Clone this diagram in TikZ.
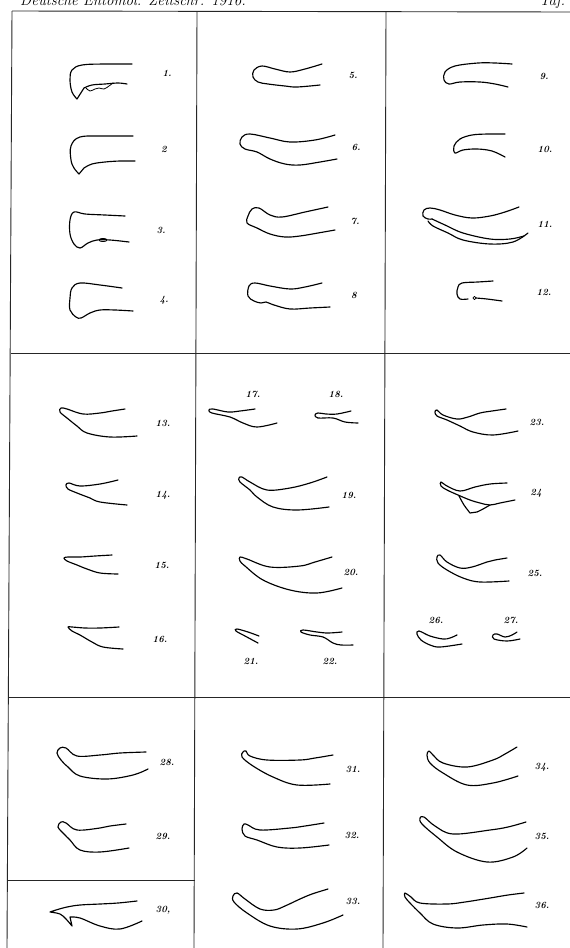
\documentclass[tikz,border=0pt]{standalone}
\begin{document}
\begin{tikzpicture}[x=1pt,y=-1pt,
  frame/.style={line width=0.9pt, black!85},
  fig/.style={line width=1.15pt, line cap=round, line join=round},
  num/.style={font=\fontsize{9.5}{10}\selectfont\bfseries\itshape, inner sep=0pt}]
\useasboundingbox (0,0) rectangle (570,948);
\fill[white] (0,0) rectangle (570,948);

% running head (cut by the page edge)
\node[anchor=base west, inner sep=0pt, font=\itshape\fontsize{15}{15}\selectfont] (head) at (20,5) {Deutsche Entomol. Zeitschr. 1916.};
\node[anchor=base east, inner sep=0pt, font=\itshape\fontsize{15}{15}\selectfont] (taf) at (578,5) {Taf. I};

% panel rules
\draw[frame] (12,11) -- (570,12);
\draw[frame] (12,11) -- (7,948);
\draw[frame] (197,11) -- (194,948);
\draw[frame] (386,12) -- (383,948);
\draw[frame] (11.2,353) -- (570,353);
\draw[frame] (9.4,697) -- (570,697);
\draw[frame] (8.2,880) -- (194.6,880);

% ---- panel A: figures 1-4
\draw[fig] plot[smooth, tension=0.6] coordinates {(132,64) (105,64) (82,65) (72,70) (70,80) (72,92) (77,99)}
  -- (84,88) plot[smooth, tension=0.6] coordinates {(84,88) (92,85) (105,84) (118,83) (127,84)};
\draw[fig, line width=0.8pt] plot[smooth, tension=0.6] coordinates {(86,88) (90,91) (95,89) (99,88) (104,89) (109,86) (113,83)};
\node[num] (l1) at (167,73) {1.};

\draw[fig] plot[smooth, tension=0.6] coordinates {(133,136) (105,136) (80,137) (71,146) (71,160) (74,168) (79,174)}
  -- (84,168) plot[smooth, tension=0.6] coordinates {(84,168) (92,164) (105,162) (120,161) (135,161)};
\node[num] (l2) at (164,149) {2};

\draw[fig] plot[smooth, tension=0.6] coordinates {(125,216) (105,215) (85,214) (74,212) (70,220) (70,234) (74,244) (80,248) (88,243) (97,240) (110,240) (129,242)};
\draw[fig, line width=0.8pt] (103,240) ellipse[x radius=4, y radius=1.6];
\node[num] (l3) at (161,230) {3.};

\draw[fig] plot[smooth, tension=0.6] coordinates {(122,288) (100,285) (80,283) (72,288) (70,298) (70,310) (76,317) (81,318) (90,313) (100,310) (115,310) (133,311)};
\node[num] (l4) at (164,300) {4.};

% ---- panel B: figures 5-8
\draw[fig] plot[smooth, tension=0.6] coordinates {(322,64) (305,69) (290,72) (275,69) (262,66) (254,70) (253,77) (258,82) (268,84) (285,86) (297,87) (320,85)};
\node[num] (l5) at (353,75) {5.};

\draw[fig] plot[smooth, tension=0.6] coordinates {(335,135) (315,140) (290,142) (270,138) (250,134) (242,137) (240,144) (245,149) (257,152) (270,159) (285,164) (300,165) (320,162) (337,159)};
\node[num] (l6) at (356,147) {6.};

\draw[fig] plot[smooth, tension=0.6] coordinates {(328,207) (305,212) (282,217) (270,215) (259,208) (252,209) (248,216) (247,223) (257,228) (270,234) (285,237) (300,236) (318,233) (335,230)};
\node[num] (l7) at (355,221) {7.};

\draw[fig] plot[smooth, tension=0.6] coordinates {(322,283) (305,287) (290,289) (270,286) (255,283) (249,286) (248,296) (254,301) (261,303) (266,302) (274,305) (290,309) (310,308) (330,307)};
\node[num] (l8) at (354,295) {8};

% ---- panel C: figures 9-12
\draw[fig] plot[smooth, tension=0.6] coordinates {(512,64) (495,63) (478,63) (455,66) (445,72) (444,80) (449,84) (460,82) (480,82) (495,84) (508,87)};
\node[num] (l9) at (544,76) {9.};

\draw[fig] plot[smooth, tension=0.6] coordinates {(505,134) (488,134) (472,135) (460,139) (454,146) (455,153) (463,150) (477,149) (492,151) (505,157)};
\node[num] (l10) at (545,149) {10.};

\draw[fig] plot[smooth, tension=0.6] coordinates {(519,207) (505,212) (490,216) (472,218) (455,215) (440,210) (430,208) (424,210) (423,216) (428,219) (432,219)};
\draw[fig] plot[smooth, tension=0.6] coordinates {(432,219) (445,225) (463,233) (490,239) (510,239) (524,236)};
\draw[fig] plot[smooth, tension=0.6] coordinates {(428,221) (433,226) (448,233) (463,240) (490,244) (513,242) (528,233)};
\node[num] (l11) at (545,224) {11.};

\draw[fig] plot[smooth, tension=0.6] coordinates {(493,281) (478,282) (462,283) (458,287) (457,294) (460,299) (468,299)};
\draw[fig, line width=0.8pt] (474.5,298) circle[radius=1.6];
\draw[fig] plot[smooth, tension=0.6] coordinates {(476,298) (487,299) (502,301)};
\node[num] (l12) at (544,292) {12.};

% ---- panel D: figures 13-16
\draw[fig] plot[smooth, tension=0.6] coordinates {(125,409) (112,411) (100,413) (83,414) (67,409) (61,408) (60,412) (67,418) (77,426) (87,433) (110,437) (137,436)};
\node[num] (l13) at (163,423) {13.};

\draw[fig] plot[smooth, tension=0.6] coordinates {(118,480) (100,484) (80,486) (69,483) (66,485) (68,489) (77,493) (90,498) (100,502) (127,505)};
\node[num] (l14) at (163,495) {14.};

\draw[fig] plot[smooth, tension=0.6] coordinates {(112,555) (95,556) (80,557) (68,557) (64,558) (67,561) (77,565) (87,569) (100,573) (118,574)};
\node[num] (l15) at (162,565) {15.};

\draw[fig] plot[smooth, tension=0.6] coordinates {(119,627) (100,628) (85,628) (72,627) (68,627) (72,631) (80,635) (92,642) (103,647) (123,649)};
\node[num] (l16) at (160,639) {16.};

% ---- panel E: figures 17-22
\node[num] (l17) at (253,394) {17.};
\draw[fig] plot[smooth, tension=0.6] coordinates {(255,409) (240,411) (228,412) (213,409) (209,410) (212,413) (230,417) (243,423) (257,427) (277,423)};

\node[num] (l18) at (336,394) {18.};
\draw[fig] plot[smooth, tension=0.6] coordinates {(351,411) (337,414) (326,414) (318,413) (315,415) (318,418) (333,418) (345,422) (358,423)};

\draw[fig] plot[smooth, tension=0.6] coordinates {(327,477) (310,483) (290,488) (267,490) (250,482) (242,477) (239,478) (240,482) (250,490) (257,497) (273,507) (297,510) (329,507)};
\node[num] (l19) at (349,495) {19.};

\draw[fig] plot[smooth, tension=0.6] coordinates {(332,557) (315,562) (300,566) (270,567) (247,559) (240,557) (240,561) (245,566) (263,580) (290,590) (317,593) (342,588)};
\node[num] (l20) at (351,572) {20.};

\draw[fig] plot[smooth, tension=0.6] coordinates {(259,636) (248,632) (237,629) (236,631) (245,636) (258,643)};
\node[num] (l21) at (251,661) {21.};

\draw[fig] plot[smooth, tension=0.6] coordinates {(342,632) (328,633) (317,632) (303,630) (301,632) (310,635) (323,637) (333,643) (341,645) (353,645)};
\node[num] (l22) at (330,661) {22.};

% ---- panel F: figures 23-27
\draw[fig] plot[smooth, tension=0.6] coordinates {(506,409) (492,411) (480,413) (468,417) (457,419) (443,415) (437,410) (435,412) (437,416) (447,420) (460,426) (473,432) (493,435) (518,431)};
\node[num] (l23) at (537,422) {23.};

\draw[fig] plot[smooth, tension=0.6] coordinates {(507,483) (490,484) (475,487) (460,491) (447,486) (441,482) (441,486) (447,490) (458,495) (470,500) (480,503) (490,505) (500,503) (515,500)};
\draw[fig] plot[smooth, tension=0.5] coordinates {(459,496) (464,505) (470,513)} -- (477,512)
  plot[smooth, tension=0.5] coordinates {(477,512) (483,509) (490,505)};
\node[num] (l24) at (536,493) {24};

\draw[fig] plot[smooth, tension=0.6] coordinates {(507,558) (495,560) (487,562) (472,567) (460,568) (447,562) (440,555) (437,557) (438,563) (447,570) (463,578) (480,582) (509,581)};
\node[num] (l25) at (535,573) {25.};

\node[num] (l26) at (436,620) {26.};
\draw[fig] plot[smooth, tension=0.6] coordinates {(457,635) (450,638) (443,639) (430,636) (419,631) (417,634) (421,640) (430,645) (440,647) (462,644)};

\node[num] (l27) at (511,620) {27.};
\draw[fig] plot[smooth, tension=0.6] coordinates {(517,632) (512,635) (505,637) (497,634) (493,635) (494,639) (507,641) (520,639)};

% ---- panel G: figures 28-29
\draw[fig] plot[smooth, tension=0.6] coordinates {(146,752) (120,753) (100,755) (77,756) (66,748) (60,748) (57,753) (61,760) (68,767) (80,776) (107,779) (133,775) (148,769)};
\node[num] (l28) at (167,762) {28.};

\draw[fig] plot[smooth, tension=0.6] coordinates {(126,824) (110,826) (100,828) (77,830) (66,823) (61,822) (58,827) (64,834) (70,840) (80,850) (100,852) (129,848)};
\node[num] (l29) at (163,836) {29.};

% ---- panel H: figure 30
\draw[fig] plot[smooth, tension=0.6] coordinates {(137,901) (118,903) (100,904) (80,905) (67,907) (56,910) (50,912)}
  plot[smooth, tension=0.6] coordinates {(50,912) (60,914) (66,919) (72,926)}
  -- (70,917) plot[smooth, tension=0.6] coordinates {(70,917) (80,918) (100,926) (120,929) (142,921)};
\node[num] (l30) at (163,910) {30,};

% ---- panel I: figures 31-33
\draw[fig] plot[smooth, tension=0.6] coordinates {(333,755) (315,758) (300,760) (267,760) (250,756) (246,751) (243,752) (242,757) (253,766) (273,777) (297,785) (330,784)};
\node[num] (l31) at (353,769) {31.};

\draw[fig] plot[smooth, tension=0.6] coordinates {(324,823) (305,826) (290,828) (260,830) (248,825) (244,824) (242,829) (245,836) (257,840) (277,847) (300,848) (329,845)};
\node[num] (l32) at (352,835) {32.};

\draw[fig] plot[smooth, tension=0.6] coordinates {(328,889) (312,894) (300,899) (285,906) (274,910) (260,909) (245,899) (237,893) (233,896) (234,902) (247,913) (270,926) (297,929) (323,923) (343,915)};
\node[num] (l33) at (353,901) {33.};

% ---- panel J: figures 34-36
\draw[fig] plot[smooth, tension=0.6] coordinates {(517,747) (505,754) (493,760) (467,767) (443,763) (433,755) (429,751) (427,755) (430,763) (443,773) (467,785) (493,783) (518,776)};
\node[num] (l34) at (542,767) {34.};

\draw[fig] plot[smooth, tension=0.6] coordinates {(526,822) (508,827) (490,830) (453,834) (435,826) (424,817) (420,818) (422,824) (437,837) (457,852) (487,862) (513,857) (527,848)};
\node[num] (l35) at (542,836) {35.};

\draw[fig] plot[smooth, tension=0.6] coordinates {(524,893) (508,895) (490,898) (465,902) (447,904) (420,903) (411,897) (405,893) (405,897) (410,903) (420,913) (433,924) (457,928) (483,925) (507,924) (527,927)};
\node[num] (l36) at (542,905) {36.};
\end{tikzpicture}
\end{document}
